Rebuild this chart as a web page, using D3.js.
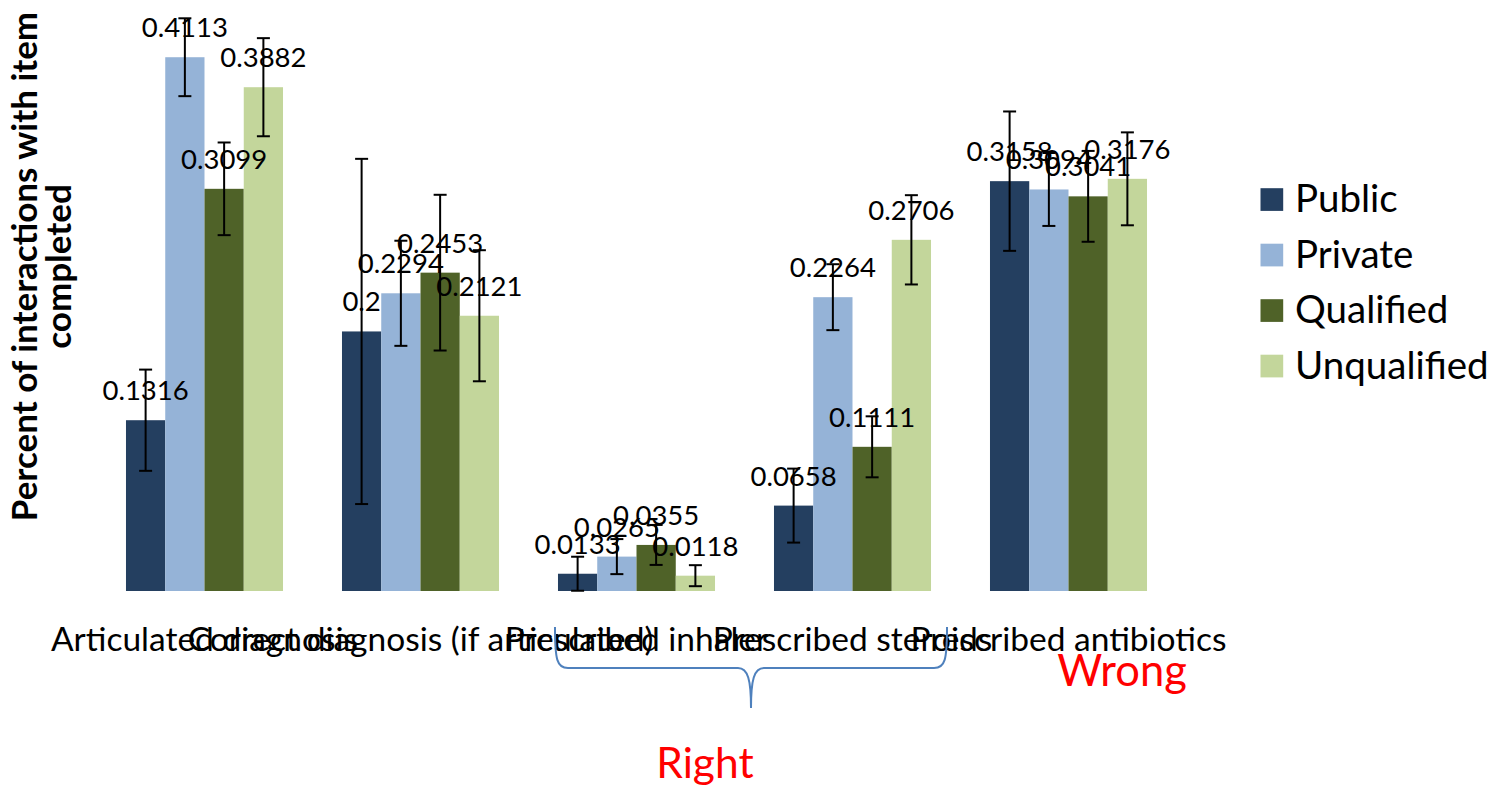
<!DOCTYPE html>
<html>
<head>
<meta charset="utf-8">
<script src="https://cdn.jsdelivr.net/npm/d3@7"></script>
<style>
  html, body { margin: 0; padding: 0; background: #fff; }
  svg { display: block; }
  text { font-family: Lato, "Noto Sans", sans-serif; fill: #000; }
</style>
</head>
<body>
<svg id="chart" width="1499" height="788"></svg>
<script>
const categories = ["Articulated diagnosis", "Correct diagnosis (if articulated)", "Prescribed inhaler", "Prescribed steroids", "Prescribed antibiotics"];
const seriesNames = ["Public", "Private", "Qualified", "Unqualified"];
const publicVals = [0.1316, 0.2, 0.0133, 0.0658, 0.3158];
const privateVals = [0.4113, 0.2294, 0.0265, 0.2264, 0.3094];
const qualifiedVals = [0.3099, 0.2453, 0.0355, 0.1111, 0.3041];
const unqualifiedVals = [0.3882, 0.2121, 0.0118, 0.2706, 0.3176];
const publicErr = [0.039, 0.133, 0.0131, 0.0285, 0.0537];
const privateErr = [0.030, 0.0405, 0.0135, 0.0254, 0.0281];
const qualifiedErr = [0.0357, 0.060, 0.0154, 0.0235, 0.035];
const unqualifiedErr = [0.0378, 0.0505, 0.0081, 0.0344, 0.0358];
const colors = ["#243F60", "#95B3D7", "#4F6228", "#C3D69B"];
const yTitle = ["Percent of interactions with item", "completed"];
const annotations = ["Right", "Wrong"];

const values = [publicVals, privateVals, qualifiedVals, unqualifiedVals];
const errors = [publicErr, privateErr, qualifiedErr, unqualifiedErr];

const svg = d3.select("#chart");

const x0 = d3.scaleBand().domain(categories).range([96.5, 1176.5]).paddingInner(0.273).paddingOuter(0.1365);
const x1 = d3.scaleBand().domain(seriesNames).range([0, x0.bandwidth()]).padding(0);
const y = d3.scaleLinear().domain([0, 0.45]).range([591, 7]);

const rows = [];
categories.forEach((c, ci) => {
  seriesNames.forEach((s, si) => {
    rows.push({ cat: c, series: s, si, v: values[si][ci], e: errors[si][ci] });
  });
});

const g = svg.append("g");

// bars
g.selectAll("rect.bar").data(rows).join("rect")
  .attr("class", "bar")
  .attr("x", d => x0(d.cat) + x1(d.series))
  .attr("width", x1.bandwidth())
  .attr("y", d => y(d.v))
  .attr("height", d => y(0) - y(d.v))
  .attr("fill", d => colors[d.si]);

// error bars
const capHalf = 6.5;
const eb = g.selectAll("g.err").data(rows).join("g").attr("class", "err")
  .attr("stroke", "#000").attr("stroke-width", 2);
const cx = d => x0(d.cat) + x1(d.series) + x1.bandwidth() / 2;
eb.append("line").attr("x1", cx).attr("x2", cx).attr("y1", d => y(d.v + d.e)).attr("y2", d => y(Math.max(0, d.v - d.e)));
eb.append("line").attr("x1", d => cx(d) - capHalf).attr("x2", d => cx(d) + capHalf).attr("y1", d => y(d.v + d.e)).attr("y2", d => y(d.v + d.e));
eb.append("line").attr("x1", d => cx(d) - capHalf).attr("x2", d => cx(d) + capHalf).attr("y1", d => y(Math.max(0, d.v - d.e))).attr("y2", d => y(Math.max(0, d.v - d.e)));

// value labels
g.selectAll("text.val").data(rows).join("text")
  .attr("class", "val")
  .attr("x", cx)
  .attr("y", d => y(d.v) - 20)
  .attr("text-anchor", "middle")
  .attr("font-size", 27.5)
  .text(d => String(d.v));

// category labels
const xAxis = d3.axisBottom(x0).tickSize(0).tickPadding(0);
const ax = svg.append("g").attr("transform", "translate(0,651)").call(xAxis);
ax.select(".domain").remove();
ax.selectAll(".tick text")
  .attr("y", 0).attr("dy", 0)
  .attr("font-size", 33.5)
  .attr("font-family", "Lato, 'Noto Sans', sans-serif")
  .attr("fill", "#000");

// y title
const yt = svg.append("text")
  .attr("transform", "translate(0,266.5) rotate(-90)")
  .attr("text-anchor", "middle")
  .attr("font-weight", "bold")
  .attr("font-size", 35);
yt.append("tspan").attr("x", 0).attr("y", 37).text(yTitle[0]);
yt.append("tspan").attr("x", 0).attr("y", 71).text(yTitle[1]);

// legend
const lg = svg.append("g").attr("transform", "translate(1260.5,0)");
const ly = d3.scalePoint().domain(seriesNames).range([199.5, 366]);
seriesNames.forEach((s, i) => {
  lg.append("rect").attr("x", 0).attr("y", ly(s) - 11.3).attr("width", 22.7).attr("height", 22.7).attr("fill", colors[i]);
  lg.append("text").attr("x", 34.5).attr("y", ly(s) + 12.5).attr("font-size", 38.5).text(s);
});

// brace (annotation)
const bl = x0(categories[2]) - 3, br = x0(categories[3]) + x0.bandwidth() + 16;
const bm = (bl + br) / 2, bt = 627, bh = 668, bp = 708;
svg.append("path")
  .attr("d", `M${bl},${bt} C${bl},${bh - 8} ${bl + 2},${bh} ${bl + 13},${bh} L${bm - 13},${bh} C${bm - 3},${bh} ${bm},${bh + 12} ${bm},${bp} C${bm},${bh + 12} ${bm + 3},${bh} ${bm + 13},${bh} L${br - 13},${bh} C${br - 2},${bh} ${br},${bh - 8} ${br},${bt}`)
  .attr("fill", "none").attr("stroke", "#4F81BD").attr("stroke-width", 2);

svg.append("text").attr("x", 705).attr("y", 778).attr("text-anchor", "middle").attr("font-size", 42.5).style("fill", "#FF0000").text(annotations[0]);
svg.append("text").attr("x", 1122).attr("y", 686).attr("text-anchor", "middle").attr("font-size", 43.5).style("fill", "#FF0000").text(annotations[1]);
</script>
</body>
</html>
